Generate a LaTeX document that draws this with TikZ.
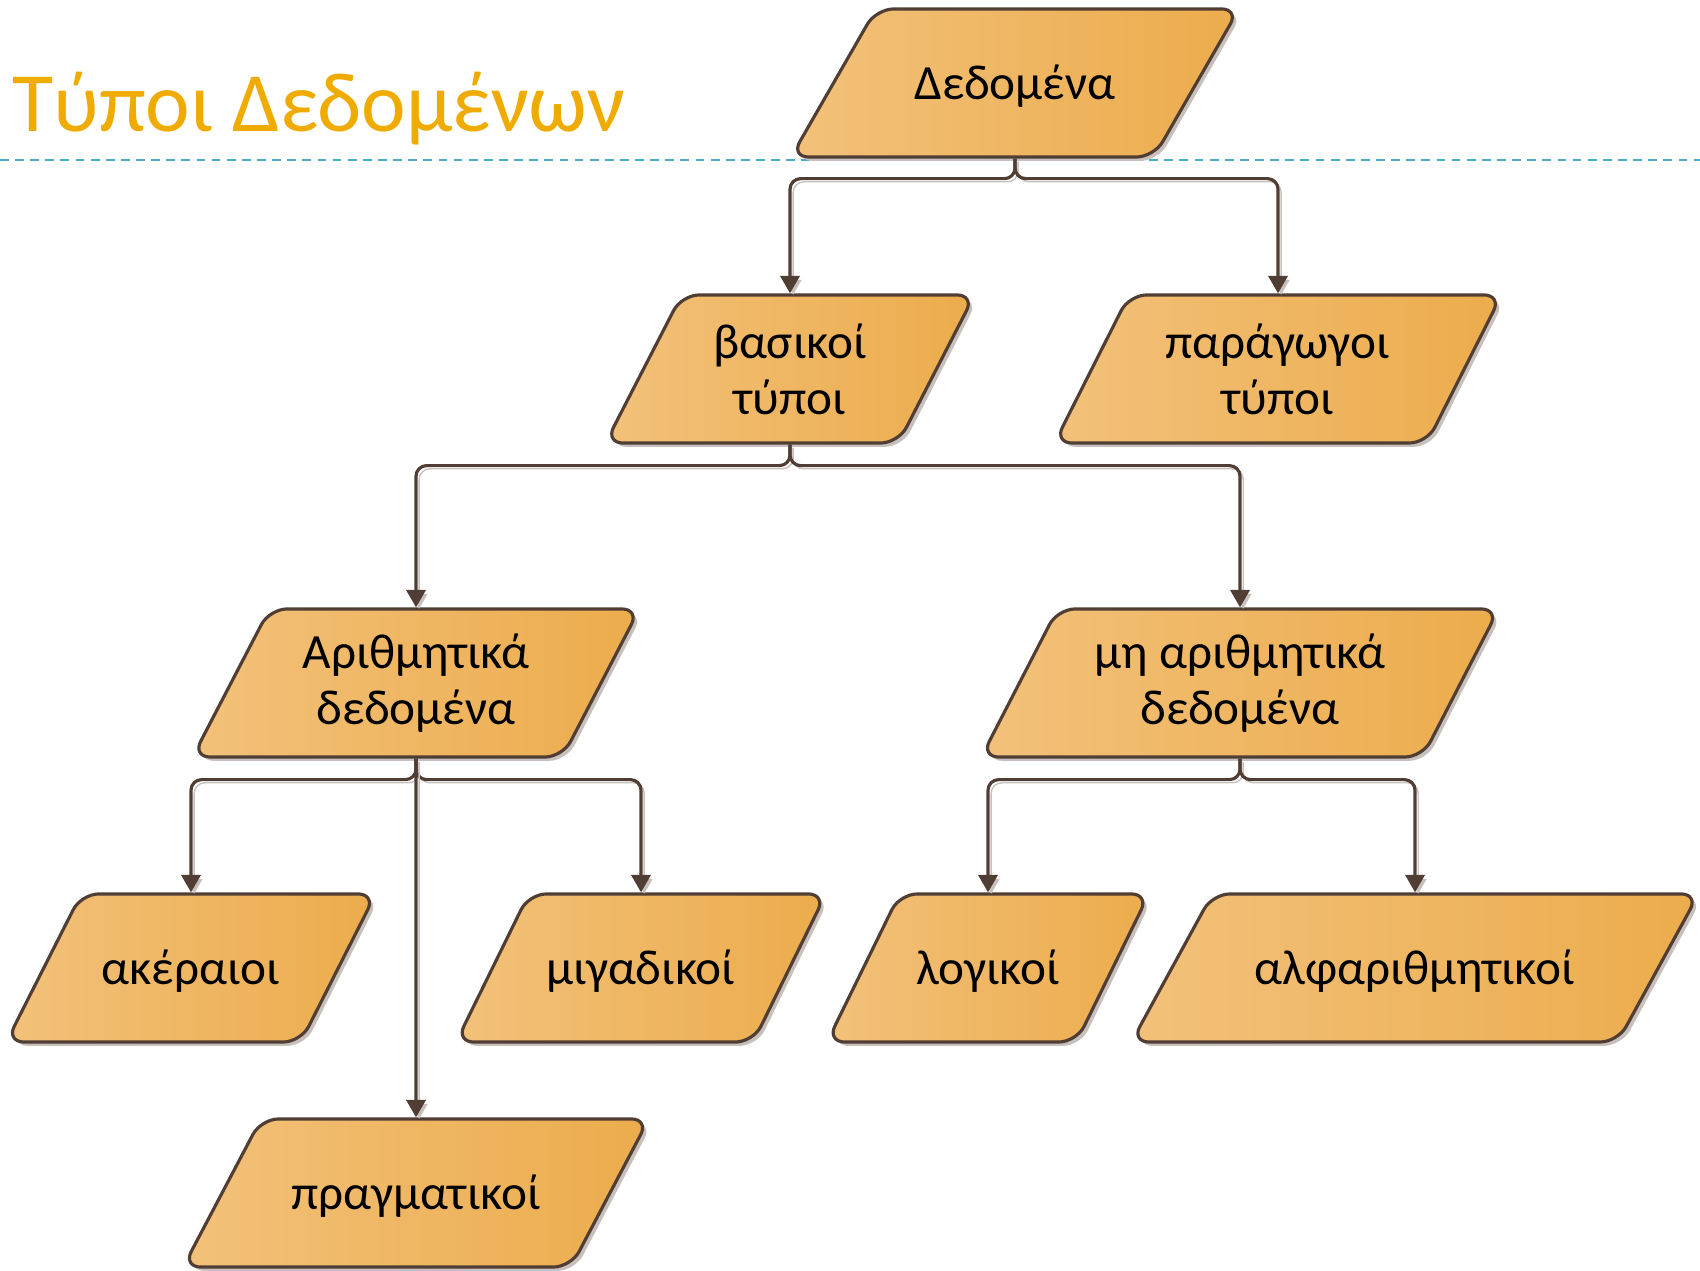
\documentclass[tikz,border=0pt]{standalone}
\usepackage{fontspec}
\setmainfont{Carlito}
\usetikzlibrary{shapes.geometric,shadows,arrows.meta}

\definecolor{titleorange}{RGB}{240,171,0}
\definecolor{boxlight}{RGB}{242,193,122}
\definecolor{boxdark}{RGB}{236,172,76}
\definecolor{boxline}{RGB}{80,62,52}
\definecolor{shadowgray}{RGB}{200,192,188}
\definecolor{rulecyan}{RGB}{75,172,198}

\tikzset{
  databox/.style={trapezium, trapezium left angle=65, trapezium right angle=115,
    trapezium stretches=true, minimum height=1.48cm, draw=boxline, line width=0.9pt,
    rounded corners=5pt, left color=boxlight, right color=boxdark, align=center,
    font=\fontsize{14pt}{16pt}\selectfont,
    text height=11.5pt, text depth=2pt, inner ysep=14.2pt,
    drop shadow={shadow xshift=1.1pt, shadow yshift=-1.1pt, fill=shadowgray, opacity=1}},
  twoline/.style={text height=, text depth=, inner ysep=6pt},
  conn/.style={draw=boxline, line width=0.9pt, rounded corners=3pt,
    -{Triangle[width=5.5pt,length=5pt]},
    preaction={draw=shadowgray, transform canvas={xshift=0.9pt,yshift=-0.9pt}}}
}

\begin{document}
\begin{tikzpicture}[x=0.01cm, y=-0.01cm]

    \useasboundingbox (0,0) rectangle (1700,1271);

    % Title and rule
    \node[anchor=west, text=titleorange, font=\fontsize{24pt}{28pt}\selectfont] (title) at (0,109) {Τύποι Δεδομένων};
    \draw[rulecyan, line width=0.6pt, dash pattern=on 2.5pt off 1.8pt] (0,160) -- (1700,160);

    % Boxes
    \node[databox, minimum width=4.48cm] (data)                at (1015,83)  {Δεδομένα};
    \node[databox, twoline, minimum width=3.71cm] (basic)      at (790,369)  {βασικοί\\τύποι};
    \node[databox, twoline, minimum width=4.47cm] (derived)    at (1278,369) {παράγωγοι\\τύποι};
    \node[databox, twoline, minimum width=4.47cm] (numeric)    at (416,683)  {Αριθμητικά\\δεδομένα};
    \node[databox, twoline, minimum width=5.18cm] (nonnumeric) at (1240,683) {μη αριθμητικά\\δεδομένα};
    \node[databox, minimum width=3.72cm] (integer)             at (191,968)  {ακέραιοι};
    \node[databox, minimum width=3.72cm] (complex)             at (641,968)  {μιγαδικοί};
    \node[databox, minimum width=3.23cm] (logical)             at (988,968)  {λογικοί};
    \node[databox, minimum width=5.68cm] (string)              at (1415,968) {αλφαριθμητικοί};
    \node[databox, minimum width=4.66cm] (real)                at (416,1193) {πραγματικοί};

    % Connectors
    \draw[conn] (data.south) -- ++(0,20) -| (basic.north);
    \draw[conn] (data.south) -- ++(0,20) -| (derived.north);

    \draw[conn] (basic.south) -- ++(0,21) -| (numeric.north);
    \draw[conn] (basic.south) -- ++(0,21) -| (nonnumeric.north);

    \draw[conn] (numeric.south) -- ++(0,21) -| (integer.north);
    \draw[conn] (numeric.south) -- ++(0,21) -| (complex.north);
    \draw[conn] (numeric.south) -- (real.north);

    \draw[conn] (nonnumeric.south) -- ++(0,21) -| (logical.north);
    \draw[conn] (nonnumeric.south) -- ++(0,21) -| (string.north);

\end{tikzpicture}
\end{document}
